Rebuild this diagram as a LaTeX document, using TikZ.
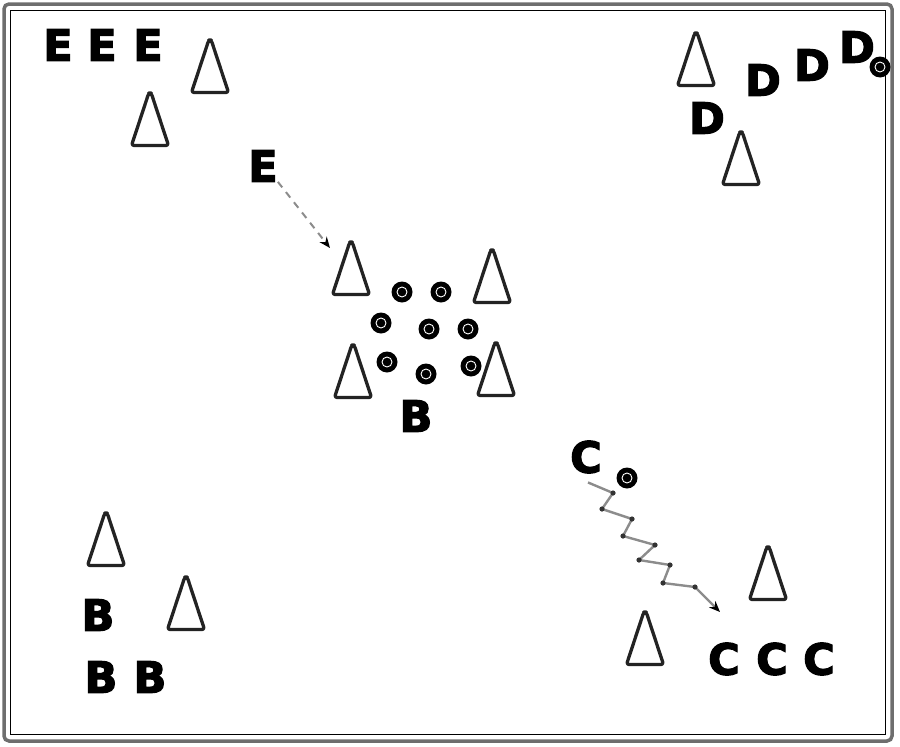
\documentclass[tikz,border=0pt]{standalone}
\usepackage{fontspec}
\setsansfont{DejaVu Sans}[BoldFeatures={FakeBold=3}]
\usepackage{tikz}
\usetikzlibrary{arrows.meta}
\definecolor{conegray}{RGB}{35,35,35}
\definecolor{trailgray}{RGB}{140,140,140}
\definecolor{framegray}{RGB}{110,110,110}

\begin{document}
\begin{tikzpicture}[x=1pt, y=-1pt,
        player/.style={inner sep=0pt, text=black, font=\sffamily\bfseries\fontsize{43}{43}\selectfont},
        cone/.style={draw=conegray, line width=3.3pt, fill=white, rounded corners=2.5pt, line join=round},
        ball/.style={fill=black},
        pass/.style={draw=trailgray, line width=2pt, dash pattern=on 7pt off 6pt,
              -{Stealth[length=11pt, width=9pt, black]}},
        dribble/.style={draw=trailgray, line width=2.4pt, line join=round,
              -{Stealth[length=11pt, width=9pt, black]}}]
        \useasboundingbox (0,0) rectangle (900,747);
        \draw[framegray, line width=3.5pt, rounded corners=5pt] (4,4) rectangle (892,741);
        \draw[black, line width=1pt] (10,10) rectangle (885,734);
        \foreach \cx/\by in {210/95, 150/148, 696/88, 741/187, 351/297, 492/305, 353/400, 496/398,
              106/568, 186/632, 768/602, 645/667}
            \draw[cone] (\cx-18.5,\by-2.5) -- (\cx-1.2,\by-55) -- (\cx+1.2,\by-55) -- (\cx+18.5,\by-2.5) -- cycle;
        \foreach \lx/\ly/\lt/\ln in {58/45/E/e1, 102/45/E/e2, 148/45/E/e3, 263/166/E/e4,
              857/47/D/d1, 812/65/D/d2, 763/80/D/d3, 707/118/D/d4,
              416/416/B/b1, 98/615/B/b2, 101/677/B/b3, 150/677/B/b4,
              586/457/C/c1, 724/659/C/c2, 772/659/C/c3, 819/659/C/c4}
            \node[player] (\ln) at (\lx,\ly) {\lt};
        \foreach \bx/\by in {402/292, 441/292, 381/323, 429/329, 468/329, 387/362, 426/374, 471/366,
              627/478, 880/67} {
            \fill[ball] (\bx,\by) circle[radius=10.5pt];
            \draw[white, line width=0.9pt] (\bx,\by) circle[radius=5pt];
        }
        \coordinate (passend) at (330,248);
        \coordinate (dribend) at (720,612);
        \draw[pass] (e4.south east) -- (passend);
        \draw[dribble] ([shift={(2,9)}]c1.south) -- (613,493) -- (602,509) -- (632,519) -- (623,536)
              -- (655,545) -- (639,560) -- (670,565) -- (663,583) -- (695,587) -- (dribend);
        \foreach \zx/\zy in {613/493, 602/509, 632/519, 623/536, 655/545, 639/560, 670/565, 663/583, 695/587}
            \fill[black!80] (\zx,\zy) circle[radius=2.6pt];
\end{tikzpicture}
\end{document}
